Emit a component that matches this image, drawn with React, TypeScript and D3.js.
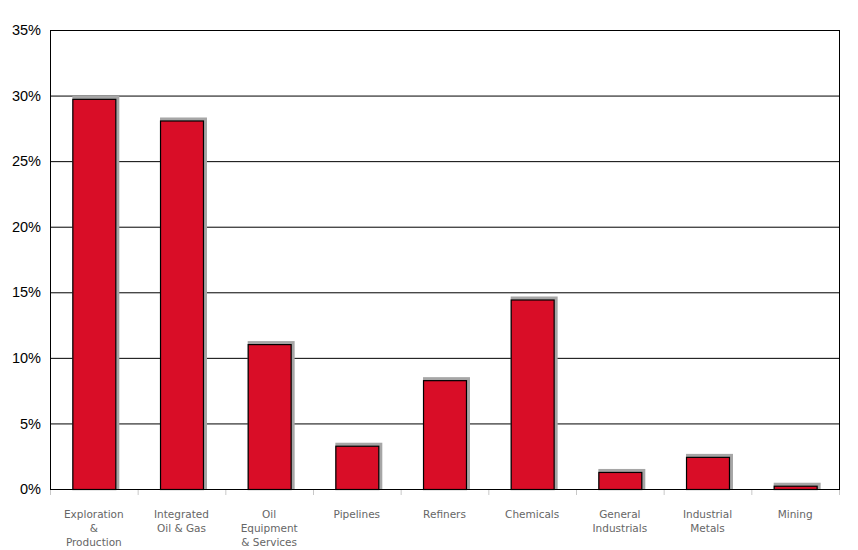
import React, { useEffect, useRef } from 'react';
import * as d3 from 'd3';

const categories = [
	['Exploration', '&', 'Production'],
	['Integrated', 'Oil & Gas'],
	['Oil', 'Equipment', '& Services'],
	['Pipelines'],
	['Refiners'],
	['Chemicals'],
	['General', 'Industrials'],
	['Industrial', 'Metals'],
	['Mining'],
];
const values = [29.75, 28.1, 11.05, 3.3, 8.3, 14.45, 1.3, 2.45, 0.25];
const yTicks = [0, 5, 10, 15, 20, 25, 30, 35];

const App: React.FC = () => {
	const ref = useRef<SVGSVGElement>(null);

	const width = 858;
	const height = 550;
	const margin = { top: 30, right: 19, bottom: 61, left: 50 };

	useEffect(() => {
		if (!ref.current) return;
		const svg = d3.select(ref.current);
		svg.selectAll('*').remove();

		const innerW = width - margin.left - margin.right;
		const innerH = height - margin.top - margin.bottom;
		const names = categories.map((c) => c.join(' '));

		const x = d3.scaleBand().domain(names).range([0, innerW]).paddingInner(0.51).paddingOuter(0.255);
		const band = d3.scaleBand().domain(names).range([0, innerW]);
		const y = d3.scaleLinear().domain([0, 35]).range([innerH, 0]);

		const g = svg.append('g').attr('transform', `translate(${margin.left},${margin.top})`);

		// grid lines
		g.selectAll('.grid')
			.data(yTicks)
			.enter()
			.append('line')
			.attr('x1', 0)
			.attr('x2', innerW)
			.attr('y1', (d) => y(d) + 0.5)
			.attr('y2', (d) => y(d) + 0.5)
			.attr('stroke', '#000')
			.attr('stroke-width', 1);

		// frame
		g.append('rect')
			.attr('x', 0.5)
			.attr('y', 0.5)
			.attr('width', innerW)
			.attr('height', innerH)
			.attr('fill', 'none')
			.attr('stroke', '#000');

		// y labels
		g.selectAll('.ylab')
			.data(yTicks)
			.enter()
			.append('text')
			.attr('x', -9)
			.attr('y', (d) => y(d))
			.attr('dy', '0.35em')
			.attr('text-anchor', 'end')
			.style('font-family', 'Liberation Sans, Arial, sans-serif')
			.style('font-size', '14.5px')
			.attr('fill', '#000')
			.text((d) => `${d}%`);

		// x tick marks
		const tickPos = names.map((n) => band(n) as number).concat([innerW]);
		g.selectAll('.xtick')
			.data(tickPos)
			.enter()
			.append('line')
			.attr('x1', (d) => d + 0.5)
			.attr('x2', (d) => d + 0.5)
			.attr('y1', innerH + 1)
			.attr('y2', innerH + 6)
			.attr('stroke', '#c8c8c8');

		const bars = g
			.selectAll('.bar')
			.data(values)
			.enter()
			.append('g');

		// shadow
		bars
			.append('rect')
			.attr('x', (d, i) => x(names[i]) as number)
			.attr('y', (d) => y(d) - 3)
			.attr('width', x.bandwidth() + 4)
			.attr('height', (d) => innerH - y(d) + 3)
			.attr('fill', '#a6a6a6');

		bars
			.append('rect')
			.attr('x', (d, i) => (x(names[i]) as number) + 0.5)
			.attr('y', (d) => y(d) + 0.5)
			.attr('width', x.bandwidth())
			.attr('height', (d) => innerH - y(d))
			.attr('fill', '#d90d27')
			.attr('stroke', '#000')
			.attr('stroke-width', 1.2);

		// x labels
		const labels = g
			.selectAll('.xlab')
			.data(categories)
			.enter()
			.append('text')
			.attr('text-anchor', 'middle')
			.style('font-family', 'DejaVu Sans, Verdana, sans-serif')
			.style('font-size', '10.5px')
			.attr('fill', '#666');
		labels
			.selectAll('tspan')
			.data((d, i) => d.map((line) => ({ line, i })))
			.enter()
			.append('tspan')
			.attr('x', (d) => (band(names[d.i]) as number) + band.bandwidth() / 2)
			.attr('y', (d, j) => innerH + 29 + j * 14)
			.text((d) => d.line);
	}, []);

	return (
		<svg
			ref={ref}
			width={width}
			height={height}
			style={{ position: 'absolute', left: 0, top: 0, background: '#fff' }}
		/>
	);
};

export default App;
